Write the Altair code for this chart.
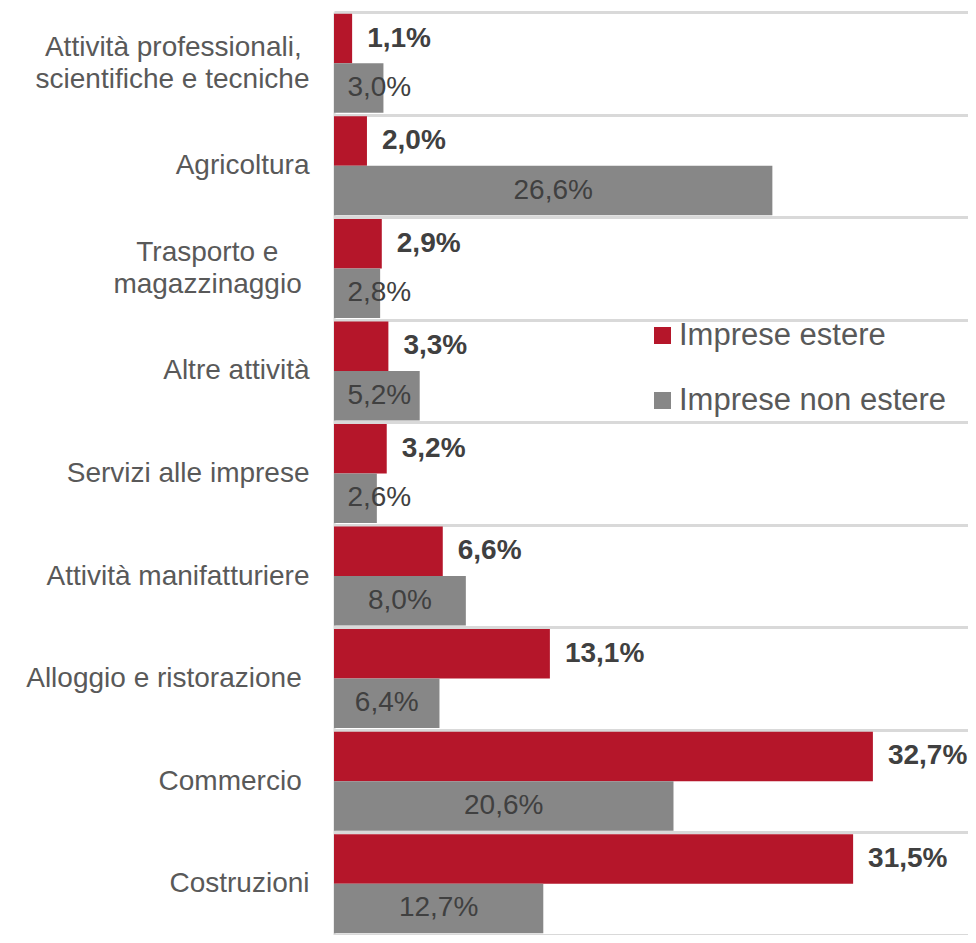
import altair as alt
import pandas as pd

NB = "\u00a0"
ZW = "\u200b"
categories = [
    "Attività professionali," + NB + ZW + "|scientifiche e tecniche",
    "Agricoltura",
    "Trasporto e" + NB * 4 + ZW + "|magazzinaggio" + NB + ZW,
    "Altre attività",
    "Servizi alle imprese",
    "Attività manifatturiere",
    "Alloggio e ristorazione" + NB + ZW,
    "Commercio" + NB + ZW,
    "Costruzioni",
]
series = ["Imprese estere", "Imprese non estere"]
estere = [1.1, 2.0, 2.9, 3.3, 3.2, 6.6, 13.1, 32.7, 31.5]
non_estere = [3.0, 26.6, 2.8, 5.2, 2.6, 8.0, 6.4, 20.6, 12.7]
colors = ["#B5162A", "#878787"]

rows = []
for c, a, b in zip(categories, estere, non_estere):
    rows.append({"cat": c, "series": series[0], "value": a})
    rows.append({"cat": c, "series": series[1], "value": b})
df = pd.DataFrame(rows)
df["label"] = df["value"].map(lambda v: f"{v:.1f}%".replace(".", ","))

FONT = "Liberation Sans"
W, H = 634, 923
XMAX = W / 16.48

x = alt.X("value:Q", axis=None, scale=alt.Scale(domain=[0, XMAX], nice=False, zero=True))
y = alt.Y(
    "cat:N",
    sort=categories,
    title=None,
    scale=alt.Scale(paddingInner=0, paddingOuter=0),
    axis=alt.Axis(
        labelExpr="split(datum.label, '|')",
        labelFont=FONT,
        labelFontSize=28,
        labelColor="#595959",
        labelLineHeight=32,
        labelPadding=25,
        labelLimit=400,
        labelOffset=alt.condition("indexof(datum.label, '|') >= 0", alt.value(-16), alt.value(0)),
        ticks=False,
        domain=True,
        domainColor="#d9d9d9",
        domainWidth=2,
        grid=True,
        gridColor="#d9d9d9",
        gridWidth=3,
        tickBand="extent",
    ),
)
yoff = alt.YOffset("series:N", sort=series, scale=alt.Scale(paddingInner=0, paddingOuter=0.036))

base = alt.Chart(df)

bars = base.mark_bar().encode(
    x=x,
    y=y,
    yOffset=yoff,
    color=alt.Color(
        "series:N",
        sort=series,
        scale=alt.Scale(domain=series, range=colors),
        legend=alt.Legend(
            title=None,
            orient="none",
            legendX=313,
            legendY=308,
            symbolType="square",
            symbolSize=289,
            symbolStrokeWidth=0,
            labelFont=FONT,
            labelFontSize=31,
            labelColor="#595959",
            labelOffset=1,
            labelLimit=500,
            rowPadding=33,
        ),
    ),
)

red_labels = base.transform_filter(alt.datum.series == series[0]).mark_text(
    align="left", baseline="middle", dx=15, font=FONT, fontSize=28, fontWeight="bold", color="#404040"
).encode(x=x, y=y, yOffset=yoff, text="label:N")

gray_labels = base.transform_filter(alt.datum.series == series[1]).transform_calculate(
    xpos="max(datum.value / 2, 2.75)"
).mark_text(
    align="center", baseline="middle", font=FONT, fontSize=28, color="#404040"
).encode(
    x=alt.X("xpos:Q", axis=None, scale=alt.Scale(domain=[0, XMAX], nice=False, zero=True)),
    y=y,
    yOffset=yoff,
    text="label:N",
)

chart = (
    alt.layer(bars, red_labels, gray_labels)
    .properties(
        width=W,
        height=H,
        autosize=alt.AutoSizeParams(type="none"),
        padding={"left": 326, "top": 4, "right": 0, "bottom": 0},
    )
    .configure_view(stroke=None)
)

chart.save("out.html", embed_options={"renderer": "svg", "actions": False})
